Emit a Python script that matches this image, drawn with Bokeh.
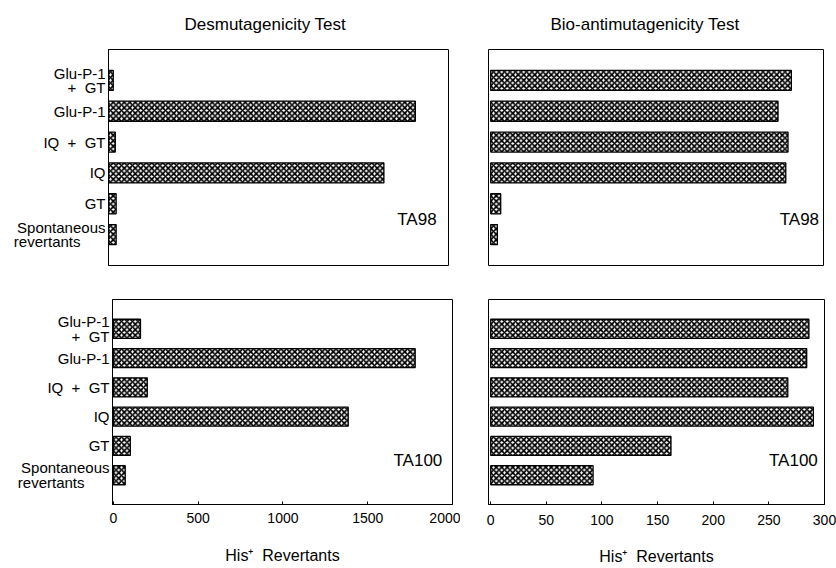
from bokeh.plotting import figure
from bokeh.layouts import column, row
from bokeh.models import FactorRange, Range1d, FixedTicker, ColumnDataSource
from bokeh.embed import file_html
from bokeh.resources import INLINE
from bokeh.core.properties import value

NB = "\u00a0"
# ---- data (top bar first) ----
categories = ["Glu-P-1\n" + NB * 2 + "+" + NB + " GT", "Glu-P-1", "IQ" + NB * 2 + "+" + NB * 2 + "GT", "IQ", "GT",
              "Spontaneous\nrevertants" + NB * 6]
desmut_ta98 = [28, 1805, 40, 1620, 45, 45]
desmut_ta100 = [160, 1780, 200, 1385, 100, 70]
bio_ta98 = [271, 259, 268, 266, 9, 6]
bio_ta100 = [286, 284, 267, 290, 162, 92]
desmut_ticks = [0, 500, 1000, 1500, 2000]
bio_ticks = [0, 50, 100, 150, 200, 250, 300]
titles = ["Desmutagenicity Test", "Bio-antimutagenicity Test"]
strains = ["TA98", "TA100"]
x_label = "His\u207a " + NB + "Revertants"

FONT = "Liberation Sans"
factors = list(reversed(categories))


def panel(vals, xstart, xmax, width, height, borders, show_ylabels, ticks,
          title=None, title_offset=0, strain=None, strain_x=None):
    bl, br, bt, bb = borders
    p = figure(width=width, height=height, output_backend="svg", toolbar_location=None,
               y_range=FactorRange(factors=factors, range_padding=0.5,
                                   range_padding_units="absolute"),
               x_range=Range1d(xstart, xmax),
               min_border_left=bl, min_border_right=br,
               min_border_top=bt, min_border_bottom=bb)
    src = ColumnDataSource(dict(y=categories, right=vals))
    p.hbar(y="y", left=0, right="right", height=0.65, source=src,
           fill_color="white", line_color="black", line_width=1.3,
           hatch_pattern="x", hatch_color="black", hatch_scale=5.5, hatch_weight=1.7)
    p.xgrid.visible = False
    p.ygrid.visible = False
    p.outline_line_color = "black"
    p.outline_line_width = 1
    p.background_fill_color = "white"
    p.border_fill_color = "white"

    ya = p.yaxis[0]
    if show_ylabels:
        ya.major_tick_line_color = None
        ya.minor_tick_line_color = None
        ya.major_tick_out = 0
        ya.major_tick_in = 0
        ya.axis_line_color = "black"
        ya.major_label_text_font = FONT
        ya.major_label_text_font_size = "15px"
        ya.major_label_text_line_height = 0.85
        ya.major_label_text_color = "black"
        ya.major_label_standoff = 3
    else:
        ya.visible = False

    xa = p.xaxis[0]
    if ticks is not None:
        xa.ticker = FixedTicker(ticks=ticks)
        xa.minor_tick_line_color = None
        xa.major_tick_in = 3
        xa.major_tick_out = 0
        xa.axis_line_color = "black"
        xa.major_label_text_font = FONT
        xa.major_label_text_font_size = "14px"
        xa.major_label_text_color = "black"
        xa.axis_label = x_label
        xa.axis_label_text_font = FONT
        xa.axis_label_text_font_size = "16px"
        xa.axis_label_text_font_style = "normal"
        xa.axis_label_text_color = "black"
    else:
        xa.visible = False

    if title:
        p.title.text = title
        p.title.align = "left"
        p.title.vertical_align = "top"
        p.title.offset = title_offset
        p.title.text_font = FONT
        p.title.text_font_size = "17px"
        p.title.text_font_style = "normal"
        p.title.text_color = "black"
        p.title.standoff = 28

    if strain:
        p.text(x=[strain_x], y=[("GT", -0.5)], text=[strain], text_align="right",
               text_baseline="middle", text_font=value(FONT), text_font_size="17px",
               text_color="black")
    return p


tl = panel(desmut_ta98, 0, 2000, 460, 288, (108, 12, 48, 23), True, None,
           title=titles[0], title_offset=76, strain=strains[0], strain_x=1930)
tr = panel(bio_ta98, -2, 300, 376, 288, (28, 13, 45, 8), False, None,
           title=titles[1], title_offset=62, strain=strains[0], strain_x=296)
bl = panel(desmut_ta100, -5, 2000, 460, 280, (112, 8, 11, 61), True, desmut_ticks,
           strain=strains[1], strain_x=1940)
br = panel(bio_ta100, -2, 300, 376, 280, (28, 12, 10, 64), False, bio_ticks,
           strain=strains[1], strain_x=294)
bl.xaxis[0].major_label_standoff = 8
bl.xaxis[0].axis_label_standoff = 21
br.xaxis[0].major_label_standoff = 10
br.xaxis[0].axis_label_standoff = 20

layout = column(row(tl, tr), row(bl, br))
open("out.html", "w").write(file_html(layout, INLINE))
